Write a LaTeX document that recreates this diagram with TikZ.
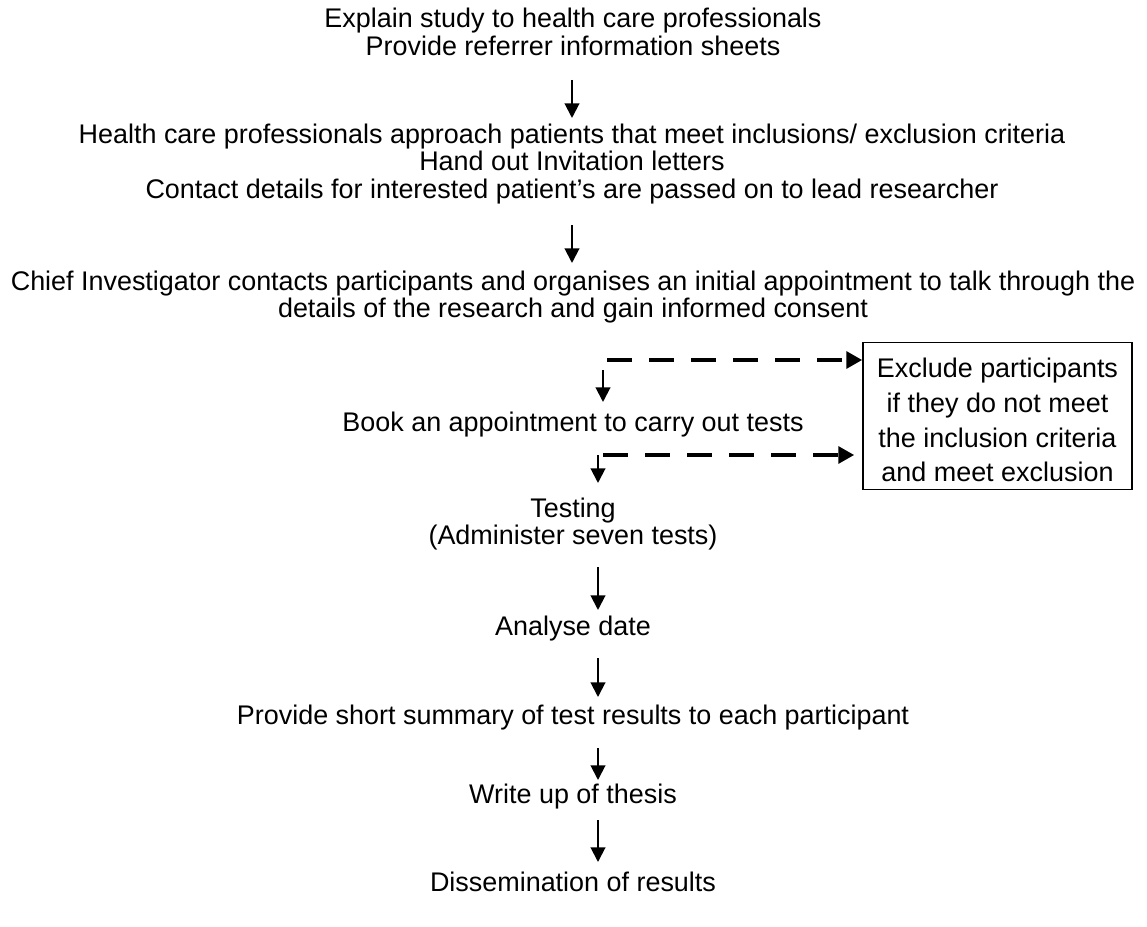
\documentclass[tikz,border=0pt]{standalone}
\usepackage{fontspec}
\setmainfont{Liberation Sans}
\usetikzlibrary{arrows.meta,calc}

\begin{document}
\begin{tikzpicture}[x=0.75pt,y=-0.75pt,
    every node/.style={font=\fontsize{20.2}{20.8}\selectfont, align=center, inner sep=0pt},
    flow/.style={line width=1.5pt, -{Triangle[length=11pt,width=11pt]}},
    skip/.style={line width=3.6pt, dash pattern=on 18.75pt off 12.75pt, -{Triangle[length=12pt,width=12.5pt]}},
    exclbox/.style={draw, line width=1.1pt, minimum width=201.75pt, minimum height=110pt, font=\fontsize{20.2}{26}\selectfont}]
    \useasboundingbox (0,0) rectangle (1147,927);
    % columns of the arrows
    \coordinate (colA) at (572,0);
    \coordinate (colB) at (603,0);
    \coordinate (colC) at (598,0);

    \node (explain) at (573,32) {Explain study to health care professionals\\Provide referrer information sheets};
    \node (approach) at (572,164) {Health care professionals approach patients that meet inclusions/ exclusion criteria\\Hand out Invitation letters\\Contact details for interested patient’s are passed on to lead researcher};
    \node (contact) at (573,297) {Chief Investigator contacts participants and organises an initial appointment to talk through the\\details of the research and gain informed consent};
    \node (book) at (573,425) {Book an appointment to carry out tests};
    \node (testing) at (573,524) {Testing\\(Administer seven tests)};
    \node (analyse) at (573,629) {Analyse date};
    \node (summary) at (573,718) {Provide short summary of test results to each participant};
    \node (thesis) at (573,797) {Write up of thesis};
    \node (dissem) at (573,882) {Dissemination of results};
    \node[exclbox] (exclude) at (997.5,416) {\rule{0pt}{21pt}Exclude participants\\if they do not meet\\the inclusion criteria\\and meet exclusion};

    \draw[flow] ($(explain.center -| colA)+(0,48)$) -- ($(approach.center -| colA)+(0,-46)$);
    \draw[flow] ($(approach.center -| colA)+(0,61)$) -- ($(contact.center -| colA)+(0,-34)$);
    \draw[flow] ($(contact.center -| colB)+(0,73)$) -- ($(book.center -| colB)+(0,-23)$);
    \draw[skip] ($(contact.center -| colB)+(4,63)$) -- ($(exclude.west)+(0,-56)$);
    \draw[flow] ($(book.center -| colC)+(0,30)$) -- ($(testing.center -| colC)+(0,-41)$);
    \draw[skip] ($(book.center -| colC)+(5,30)$) -- ($(exclude.west)+(-8,39)$);
    \draw[flow] ($(testing.center -| colC)+(0,43)$) -- ($(analyse.center -| colC)+(0,-19)$);
    \draw[flow] ($(analyse.center -| colC)+(0,29)$) -- ($(summary.center -| colC)+(0,-21)$);
    \draw[flow] ($(summary.center -| colC)+(0,30)$) -- ($(thesis.center -| colC)+(0,-17)$);
    \draw[flow] ($(thesis.center -| colC)+(0,23)$) -- ($(dissem.center -| colC)+(0,-20)$);
\end{tikzpicture}
\end{document}
